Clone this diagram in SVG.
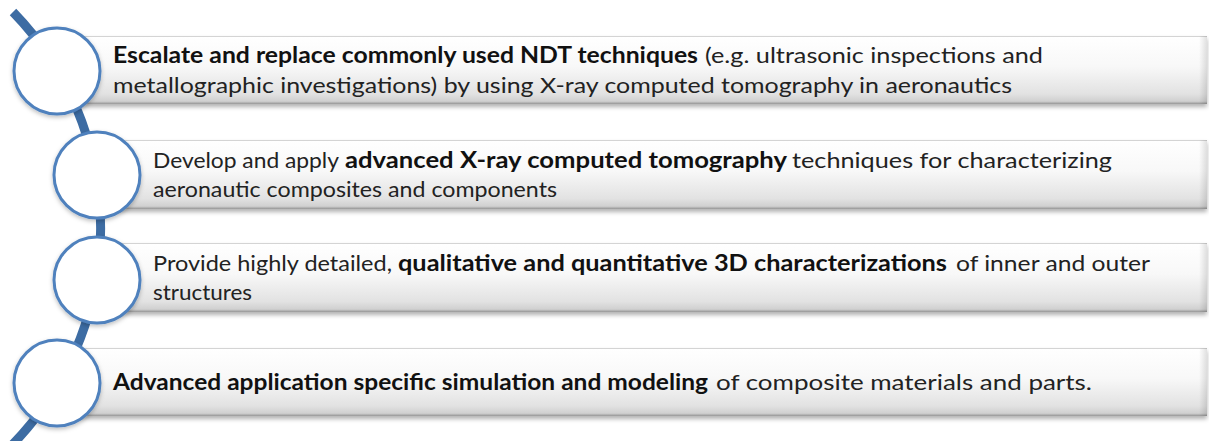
<svg xmlns="http://www.w3.org/2000/svg" width="1209" height="441" viewBox="0 0 1209 441">
  <defs>
    <linearGradient id="barFill" x1="0" y1="0" x2="0" y2="1">
      <stop offset="0" stop-color="#ffffff"/>
      <stop offset="0.45" stop-color="#f8f8f8"/>
      <stop offset="0.85" stop-color="#e2e2e2"/>
      <stop offset="0.96" stop-color="#d0d0d0"/>
      <stop offset="1" stop-color="#959595"/>
    </linearGradient>
    <linearGradient id="barEnd" x1="0" y1="0" x2="1" y2="0">
      <stop offset="0" stop-color="#000" stop-opacity="0"/>
      <stop offset="1" stop-color="#000" stop-opacity="0.12"/>
    </linearGradient>
    <filter id="shadow" x="-5%" y="-20%" width="110%" height="150%">
      <feDropShadow dx="0" dy="3" stdDeviation="2" flood-color="#000" flood-opacity="0.3"/>
    </filter>
    <filter id="cshadow" x="-20%" y="-20%" width="140%" height="150%">
      <feDropShadow dx="0" dy="2" stdDeviation="2" flood-color="#000" flood-opacity="0.25"/>
    </filter>
  </defs>
  <style>
    .bar { fill: url(#barFill); filter: url(#shadow); }
    .barTop { stroke: #d4d4d4; stroke-width: 1; }
    .barEnd { fill: url(#barEnd); }
    .node-circle { fill: #ffffff; stroke: #4f81bd; stroke-width: 3; filter: url(#cshadow); }
    .arc { fill: none; stroke: #3d6ca3; stroke-width: 9; stroke-linecap: butt; }
    text { font-family: Lato, "Liberation Sans", sans-serif; font-size: 22px; fill: #222222; }
    .b { font-weight: bold; fill: #111111; }
  </style>
  <rect width="1209" height="441" fill="#ffffff"/>

  <g id="connectors">
    <path class="arc" d="M 13 12 A 310 310 0 0 1 12 445"/>
  </g>

  <g id="node1">
    <rect class="bar" x="57" y="36" width="1150" height="68"/>
    <line class="barTop" x1="57" y1="36.5" x2="1207" y2="36.5"/>
    <rect class="barEnd" x="1199" y="36" width="8" height="68"/>
    <circle class="node-circle" cx="57" cy="71" r="43"/>
    <text class="b" x="113" y="63" textLength="585" lengthAdjust="spacingAndGlyphs">Escalate and replace commonly used NDT techniques</text>
    <text x="705" y="63" textLength="338" lengthAdjust="spacingAndGlyphs">(e.g. ultrasonic inspections and</text>
    <text x="113" y="93" textLength="899" lengthAdjust="spacingAndGlyphs">metallographic investigations) by using X-ray computed tomography in aeronautics</text>
  </g>

  <g id="node2">
    <rect class="bar" x="97" y="140" width="1110" height="69"/>
    <line class="barTop" x1="97" y1="140.5" x2="1207" y2="140.5"/>
    <rect class="barEnd" x="1199" y="140" width="8" height="69"/>
    <circle class="node-circle" cx="97" cy="175" r="43"/>
    <text x="153" y="168" textLength="186" lengthAdjust="spacingAndGlyphs">Develop and apply</text>
    <text class="b" x="345" y="168" textLength="442" lengthAdjust="spacingAndGlyphs">advanced X-ray computed tomography</text>
    <text x="792" y="168" textLength="320" lengthAdjust="spacingAndGlyphs">techniques for characterizing</text>
    <text x="153" y="197" textLength="404" lengthAdjust="spacingAndGlyphs">aeronautic composites and components</text>
  </g>

  <g id="node3">
    <rect class="bar" x="97" y="243" width="1110" height="69"/>
    <line class="barTop" x1="97" y1="243.5" x2="1207" y2="243.5"/>
    <rect class="barEnd" x="1199" y="243" width="8" height="69"/>
    <circle class="node-circle" cx="97" cy="280" r="43"/>
    <text x="153" y="271" textLength="239" lengthAdjust="spacingAndGlyphs">Provide highly detailed,</text>
    <text class="b" x="398" y="271" textLength="549" lengthAdjust="spacingAndGlyphs">qualitative and quantitative 3D characterizations</text>
    <text x="956" y="271" textLength="194" lengthAdjust="spacingAndGlyphs">of inner and outer</text>
    <text x="153" y="300" textLength="99" lengthAdjust="spacingAndGlyphs">structures</text>
  </g>

  <g id="node4">
    <rect class="bar" x="57" y="348" width="1150" height="68"/>
    <line class="barTop" x1="57" y1="348.5" x2="1207" y2="348.5"/>
    <rect class="barEnd" x="1199" y="348" width="8" height="68"/>
    <circle class="node-circle" cx="57" cy="383" r="43"/>
    <text class="b" x="113" y="390" textLength="595" lengthAdjust="spacingAndGlyphs">Advanced application specific simulation and modeling</text>
    <text x="716" y="390" textLength="376" lengthAdjust="spacingAndGlyphs">of composite materials and parts.</text>
  </g>
</svg>
